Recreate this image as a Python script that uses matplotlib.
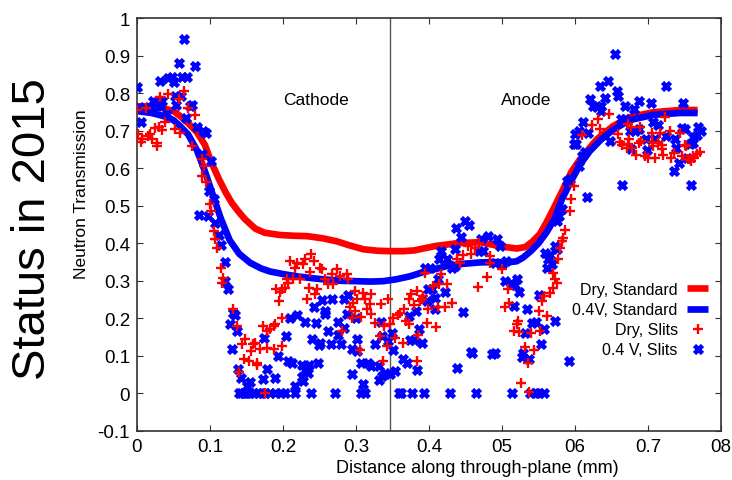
import matplotlib
matplotlib.use("Agg")
import matplotlib.pyplot as plt

plt.rcParams['font.family'] = ['Liberation Sans', 'DejaVu Sans']

# ---- smooth "Standard" curves ----
dry_std_x = [0.0, 0.02, 0.036, 0.05, 0.059, 0.07, 0.082, 0.093, 0.102, 0.112, 0.121, 0.13, 0.14, 0.148, 0.162,
             0.175, 0.196, 0.215, 0.233, 0.255, 0.274, 0.29, 0.31, 0.33, 0.347, 0.365, 0.38, 0.392, 0.41,
             0.438, 0.47, 0.497, 0.52, 0.532, 0.542, 0.552, 0.561, 0.57, 0.584, 0.595, 0.607, 0.63, 0.652,
             0.675, 0.707, 0.744, 0.768]
dry_std_y = [0.765, 0.764, 0.76, 0.752, 0.739, 0.72, 0.696, 0.662, 0.615, 0.572, 0.537, 0.507, 0.482, 0.464, 0.439,
             0.428, 0.422, 0.42, 0.419, 0.413, 0.405, 0.395, 0.384, 0.38, 0.379, 0.379, 0.381, 0.386, 0.393,
             0.40, 0.403, 0.392, 0.386, 0.39, 0.405, 0.425, 0.456, 0.49, 0.545, 0.59, 0.624, 0.677, 0.712,
             0.736, 0.749, 0.755, 0.755]

wet_std_x = [0.0, 0.02, 0.036, 0.05, 0.059, 0.07, 0.082, 0.093, 0.104, 0.115, 0.127, 0.14, 0.155, 0.17, 0.182,
             0.2, 0.219, 0.24, 0.255, 0.28, 0.301, 0.32, 0.337, 0.355, 0.374, 0.39, 0.41, 0.424, 0.445, 0.47,
             0.49, 0.507, 0.52, 0.529, 0.54, 0.55, 0.561, 0.572, 0.582, 0.595, 0.607, 0.62, 0.635, 0.652,
             0.675, 0.707, 0.744, 0.768]
wet_std_y = [0.752, 0.747, 0.739, 0.728, 0.712, 0.69, 0.648, 0.592, 0.528, 0.465, 0.408, 0.372, 0.348, 0.333, 0.325,
             0.318, 0.312, 0.307, 0.304, 0.30, 0.299, 0.298, 0.299, 0.304, 0.312, 0.322, 0.332, 0.339, 0.345, 0.349,
             0.35, 0.349, 0.352, 0.362, 0.38, 0.40, 0.429, 0.465, 0.517, 0.567, 0.61, 0.645, 0.675, 0.702,
             0.728, 0.742, 0.747, 0.747]

# ---- "Dry, Slits" scatter ----
dry_slits_x = [0.0, 0.012, 0.002, 0.007, 0.006, 0.015, 0.018, 0.02, 0.025, 0.03, 0.034, 0.028, 0.027, 0.032, 0.042,
               0.065, 0.057, 0.07, 0.08, 0.039, 0.052, 0.059, 0.075, 0.089, 0.092, 0.089, 0.095, 0.1, 0.102,
               0.105, 0.107, 0.109, 0.115, 0.118, 0.117, 0.132, 0.137, 0.144, 0.159, 0.156, 0.147, 0.153,
               0.173, 0.178, 0.182, 0.187, 0.189, 0.148, 0.162, 0.168, 0.178, 0.187, 0.198, 0.165, 0.14,
               0.175, 0.164,
               0.21, 0.219, 0.216, 0.228, 0.23, 0.239, 0.243, 0.25, 0.253, 0.237, 0.274, 0.267, 0.278, 0.287,
               0.289, 0.205, 0.214, 0.223, 0.207, 0.258, 0.261, 0.269, 0.191, 0.198, 0.203, 0.196, 0.235,
               0.246, 0.244, 0.195, 0.233, 0.299, 0.31, 0.321, 0.301, 0.312, 0.296, 0.319, 0.292, 0.299,
               0.315, 0.321, 0.198, 0.294, 0.307, 0.281, 0.305,
               0.395, 0.406, 0.414, 0.424, 0.383, 0.376, 0.372, 0.39, 0.392, 0.344, 0.334, 0.431, 0.38,
               0.388, 0.399, 0.413, 0.422, 0.366, 0.36, 0.358, 0.351, 0.347, 0.326, 0.339, 0.368, 0.373,
               0.397, 0.409, 0.333, 0.354, 0.385, 0.365, 0.342, 0.337, 0.384, 0.467, 0.479, 0.417, 0.447,
               0.454, 0.458, 0.438, 0.442, 0.468, 0.463, 0.484, 0.484,
               0.5, 0.508, 0.504, 0.509, 0.522, 0.52, 0.516, 0.523, 0.54, 0.55, 0.561, 0.552, 0.544, 0.531,
               0.535, 0.526, 0.537, 0.555, 0.558, 0.566, 0.57, 0.572, 0.575, 0.57, 0.577, 0.579, 0.582,
               0.584, 0.586, 0.593, 0.595, 0.598,
               0.609, 0.623, 0.632, 0.634, 0.646, 0.723, 0.673, 0.677, 0.689, 0.705, 0.716, 0.73, 0.744,
               0.662, 0.664, 0.674, 0.673, 0.687, 0.69, 0.705, 0.714, 0.719, 0.671, 0.678, 0.707, 0.719,
               0.684, 0.696, 0.7, 0.71, 0.721, 0.735, 0.732, 0.75, 0.752, 0.746, 0.755, 0.762, 0.767, 0.771,
               0.763, 0.759, 0.659]
dry_slits_y = [0.755, 0.76, 0.69, 0.679, 0.67, 0.686, 0.69, 0.679, 0.706, 0.711, 0.702, 0.668, 0.658, 0.789, 0.797,
               0.806, 0.784, 0.759, 0.741, 0.722, 0.704, 0.695, 0.66, 0.624, 0.606, 0.579, 0.562, 0.504, 0.486,
               0.433, 0.411, 0.388, 0.335, 0.308, 0.295, 0.226, 0.18, 0.133, 0.133, 0.113, 0.092, 0.086,
               0.18, 0.166, 0.171, 0.18, 0.184, 0.144, 0.135, 0.119, 0.122, 0.119, 0.126, 0.08, 0.057,
               0.0, 0.077,
               0.353, 0.348, 0.335, 0.344, 0.359, 0.371, 0.353, 0.335, 0.331, 0.324, 0.331, 0.317, 0.313, 0.317,
               0.306, 0.304, 0.304, 0.304, 0.295, 0.304, 0.291, 0.291, 0.279, 0.279, 0.282, 0.27, 0.282,
               0.277, 0.264, 0.246, 0.251, 0.273, 0.268, 0.264, 0.251, 0.251, 0.242, 0.237, 0.229, 0.22,
               0.224, 0.211, 0.202, 0.202, 0.204, 0.166, 0.116,
               0.322, 0.286, 0.291, 0.291, 0.273, 0.264, 0.252, 0.252, 0.259, 0.251, 0.237, 0.242, 0.235,
               0.246, 0.224, 0.229, 0.229, 0.224, 0.215, 0.208, 0.202, 0.184, 0.188, 0.18, 0.193, 0.184,
               0.188, 0.177, 0.153, 0.149, 0.155, 0.135, 0.126, 0.086, 0.086, 0.284, 0.311, 0.317, 0.368,
               0.393, 0.371, 0.357, 0.348, 0.402, 0.388, 0.348, 0.366,
               0.331, 0.277, 0.23, 0.242, 0.193, 0.184, 0.166, 0.163, 0.16, 0.22, 0.206, 0.166, 0.117, 0.124,
               0.082, 0.028, 0.004, 0.246, 0.26, 0.268, 0.282, 0.304, 0.295, 0.322, 0.357, 0.388, 0.406,
               0.415, 0.435, 0.486, 0.517, 0.553,
               0.688, 0.715, 0.731, 0.704, 0.744, 0.735, 0.717, 0.709, 0.709, 0.695, 0.695, 0.7, 0.695,
               0.669, 0.661, 0.677, 0.664, 0.667, 0.673, 0.671, 0.667, 0.661, 0.655, 0.655, 0.658, 0.651,
               0.635, 0.633, 0.626, 0.626, 0.635, 0.64, 0.628, 0.661, 0.658, 0.633, 0.624, 0.633, 0.637, 0.642,
               0.626, 0.62, 0.691]

# ---- "0.4 V, Slits" scatter ----
wet_slits_x = [0.0, 0.065, 0.057, 0.079, 0.032, 0.043, 0.048, 0.05, 0.062, 0.069, 0.052, 0.06, 0.022, 0.034, 0.054,
               0.073, 0.076, 0.003, 0.01, 0.016, 0.022, 0.027, 0.032, 0.006, 0.041, 0.067, 0.082, 0.091, 0.094,
               0.089, 0.102, 0.099, 0.105, 0.085, 0.097, 0.107, 0.112, 0.115, 0.12, 0.121, 0.124, 0.132, 0.134,
               0.127, 0.137, 0.13, 0.139, 0.143, 0.15, 0.155,
               0.14, 0.143, 0.147, 0.15, 0.155, 0.16, 0.166, 0.171, 0.175, 0.182, 0.189, 0.197, 0.203, 0.216,
               0.238, 0.271, 0.307, 0.312, 0.359, 0.362, 0.377, 0.393, 0.429, 0.464, 0.514, 0.538, 0.546,
               0.551, 0.557,
               0.253, 0.267, 0.283, 0.289, 0.242, 0.257, 0.258, 0.21, 0.219, 0.23, 0.245, 0.276, 0.287, 0.284,
               0.3, 0.174, 0.204, 0.262, 0.276, 0.24, 0.251, 0.249, 0.266, 0.279, 0.295, 0.301, 0.302, 0.193,
               0.207, 0.213, 0.226, 0.235, 0.248, 0.23, 0.234, 0.178, 0.172, 0.189, 0.226, 0.228, 0.307, 0.317,
               0.321, 0.294, 0.31, 0.217,
               0.449, 0.455, 0.437, 0.444, 0.471, 0.481, 0.468, 0.474, 0.417, 0.436, 0.414, 0.424, 0.395,
               0.401, 0.431, 0.436, 0.413, 0.399, 0.404, 0.422, 0.397, 0.408, 0.408, 0.382, 0.373, 0.447,
               0.334, 0.386, 0.349, 0.335, 0.344, 0.326, 0.374, 0.38, 0.39, 0.351, 0.457, 0.459, 0.486,
               0.365, 0.37, 0.331, 0.384, 0.354, 0.439, 0.34, 0.347, 0.335, 0.331,
               0.493, 0.497, 0.49, 0.5, 0.506, 0.504, 0.513, 0.52, 0.518, 0.523, 0.516, 0.534, 0.55, 0.541,
               0.547, 0.557, 0.572, 0.532, 0.554, 0.529, 0.527, 0.537, 0.592, 0.49, 0.559, 0.566, 0.563,
               0.573, 0.575, 0.561, 0.568, 0.575, 0.578, 0.582, 0.616, 0.589, 0.593, 0.609, 0.614,
               0.655, 0.645, 0.724, 0.657, 0.659, 0.641, 0.688, 0.704, 0.748, 0.669, 0.681, 0.663, 0.668,
               0.707, 0.714, 0.747, 0.751, 0.769, 0.773, 0.675, 0.682, 0.687, 0.648, 0.697, 0.71, 0.724,
               0.737, 0.762, 0.767, 0.758, 0.761, 0.677, 0.698, 0.738, 0.753, 0.742, 0.735, 0.664, 0.759,
               0.634, 0.621, 0.624, 0.63, 0.635, 0.636, 0.611, 0.605, 0.618, 0.6, 0.598, 0.602, 0.605]
wet_slits_y = [0.815, 0.944, 0.879, 0.873, 0.833, 0.839, 0.842, 0.829, 0.844, 0.844, 0.793, 0.793, 0.78, 0.78, 0.768,
               0.765, 0.768, 0.76, 0.762, 0.758, 0.762, 0.765, 0.768, 0.722, 0.744, 0.733, 0.709, 0.70, 0.693,
               0.637, 0.618, 0.54, 0.517, 0.475, 0.473, 0.455, 0.421, 0.395, 0.35, 0.30, 0.279, 0.215, 0.208,
               0.184, 0.166, 0.119, 0.064, 0.042, 0.02, 0.03,
               0.0, 0.0, 0.0, 0.0, 0.0, 0.0, 0.0, 0.0, 0.0, 0.0, 0.0, 0.0, 0.0, 0.0,
               0.0, 0.0, 0.0, 0.0, 0.0, 0.0, 0.0, 0.0, 0.0, 0.0, 0.0, 0.0, 0.0,
               0.0, 0.0,
               0.249, 0.251, 0.252, 0.261, 0.229, 0.22, 0.211, 0.202, 0.208, 0.19, 0.187, 0.19, 0.211, 0.175,
               0.202, 0.149, 0.153, 0.166, 0.157, 0.144, 0.135, 0.128, 0.131, 0.133, 0.119, 0.144, 0.113, 0.101,
               0.086, 0.08, 0.077, 0.075, 0.082, 0.062, 0.055, 0.064, 0.039, 0.042, 0.044, 0.033, 0.082, 0.082,
               0.073, 0.053, 0.024, 0.02,
               0.459, 0.448, 0.442, 0.417, 0.411, 0.42, 0.38, 0.38, 0.38, 0.384, 0.357, 0.357, 0.335,
               0.335, 0.335, 0.34, 0.304, 0.277, 0.279, 0.27, 0.246, 0.255, 0.226, 0.22, 0.206, 0.217,
               0.19, 0.172, 0.162, 0.153, 0.139, 0.131, 0.142, 0.142, 0.135, 0.117, 0.11, 0.107, 0.106,
               0.091, 0.08, 0.073, 0.062, 0.059, 0.068, 0.055, 0.051, 0.046, 0.037,
               0.412, 0.393, 0.348, 0.344, 0.353, 0.3, 0.295, 0.306, 0.288, 0.27, 0.233, 0.224, 0.261, 0.188,
               0.19, 0.171, 0.193, 0.16, 0.132, 0.108, 0.098, 0.092, 0.086, 0.107, 0.375, 0.368, 0.359,
               0.393, 0.384, 0.335, 0.344, 0.46, 0.473, 0.491, 0.524, 0.566, 0.571, 0.633, 0.642,
               0.904, 0.833, 0.819, 0.806, 0.793, 0.788, 0.78, 0.773, 0.773, 0.765, 0.757, 0.731, 0.731,
               0.722, 0.715, 0.706, 0.704, 0.709, 0.70, 0.70, 0.70, 0.704, 0.673, 0.679, 0.679, 0.686,
               0.679, 0.682, 0.688, 0.664, 0.667, 0.651, 0.649, 0.655, 0.628, 0.615, 0.593, 0.555, 0.555,
               0.819, 0.784, 0.765, 0.762, 0.765, 0.753, 0.724, 0.70, 0.695, 0.691, 0.664, 0.664, 0.606]

cathode_anode_boundary = 0.347
x_tick_values = [0, 0.1, 0.2, 0.3, 0.4, 0.5, 0.6, 0.7, 0.8]
x_tick_labels = ["0", "0.1", "0.2", "0.3", "0.4", "05", "06", "0.7", "08"]
y_tick_values = [-0.1, 0, 0.1, 0.2, 0.3, 0.4, 0.5, 0.6, 0.7, 0.8, 0.9, 1.0]
y_tick_labels = ["-0.1", "0", "0.1", "0.2", "0.3", "0.4", "0.5", "0.6", "0.7", "0.8", "0.9", "1"]

W, H = 732, 481
fig = plt.figure(figsize=(W / 100, H / 100), dpi=100)
ax = fig.add_axes([137 / W, 1 - 432 / H, (721 - 137) / W, (432 - 19) / H])

ax.axvline(cathode_anode_boundary, color='#555555', lw=1.0, zorder=1)

ax.plot(dry_std_x, dry_std_y, color='#ff0000', lw=4.8, solid_capstyle='butt', zorder=2, label='Dry, Standard')
ax.plot(wet_std_x, wet_std_y, color='#0000ff', lw=4.8, solid_capstyle='butt', zorder=2, label='0.4V, Standard')
ax.plot(dry_slits_x, dry_slits_y, ls='none', marker='+', ms=7, mew=1.7, color='#ff0000', zorder=4,
        label='Dry, Slits')
ax.plot(wet_slits_x, wet_slits_y, ls='none', marker='x', ms=5.3, mew=3.3, color='#0000ff', zorder=3,
        label='0.4 V, Slits')

ax.set_xlim(0, 0.8)
ax.set_ylim(-0.1, 1.0)
ax.set_xticks(x_tick_values)
ax.set_xticklabels(x_tick_labels)
ax.set_yticks(y_tick_values)
ax.set_yticklabels(y_tick_labels)
ax.tick_params(direction='in', length=4, width=0.8, top=True, right=True, labelsize=13.5, pad=5,
               colors='#333333', labelcolor='black')
for s in ax.spines.values():
    s.set_color('#333333')
    s.set_linewidth(1.2)

ax.set_xlabel('Distance along through-plane (mm)', fontsize=13)
ax.xaxis.set_label_coords(0.582, -0.068)
ax.set_ylabel('Neutron Transmission', fontsize=12.5)
ax.yaxis.set_label_coords(-0.083, 0.576)

ax.text(0.245, 0.784, 'Cathode', fontsize=12.5, ha='center', va='center')
ax.text(0.533, 0.784, 'Anode', fontsize=12.5, ha='center', va='center')

handles, labels = ax.get_legend_handles_labels()
leg = fig.legend(handles, labels, loc='upper right', bbox_to_anchor=(708 / W, 1 - 283 / H),
                 frameon=False, markerfirst=False, fontsize=11.5, handlelength=1.3,
                 handletextpad=0.6, labelspacing=0.32, borderpad=0, borderaxespad=0)

fig.text(33 / W, 1 - 229 / H, 'Status in 2015', rotation=90, fontsize=34, ha='center', va='center')

fig.savefig('out.png', dpi=100)
